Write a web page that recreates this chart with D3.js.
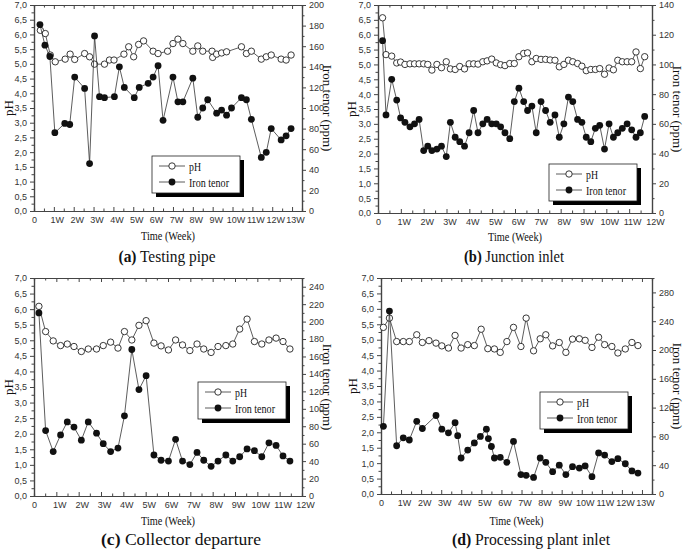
<!DOCTYPE html>
<html>
<head>
<meta charset="utf-8">
<script src="https://cdn.jsdelivr.net/npm/d3@7"></script>
<style>
  body { margin: 0; background: #fff; }
  .tick text { font-family: 'Liberation Sans', Arial, sans-serif; font-size: 9px; fill: #333; }
</style>
</head>
<body>
<div class="chart"></div>
<script>
// tick labels
var weekLabels = ['0', '1W', '2W', '3W', '4W', '5W', '6W', '7W', '8W', '9W', '10W', '11W', '12W', '13W'];
var phTicks = [0, 0.5, 1, 1.5, 2, 2.5, 3, 3.5, 4, 4.5, 5, 5.5, 6, 6.5, 7];
var seriesNames = ['pH', 'Iron tenor'];

// (a) Testing pipe
var aPhWeek = [0.32, 0.57, 0.82, 1.07, 1.57, 1.82, 2.05, 2.55, 2.8, 3.05, 3.55, 3.8, 4.03, 4.53, 4.77, 5.02, 5.27, 5.52, 6.0, 6.25,
               6.73, 7.0, 7.25, 7.5, 8.0, 8.25, 8.5, 8.97, 9.0, 9.2, 9.45, 9.7, 10.45, 10.7, 10.95, 11.45, 11.7, 11.95, 12.45, 12.7, 12.95];
var aPh = [6.14, 6.03, 5.3, 5.07, 5.16, 5.33, 5.15, 5.35, 5.24, 4.99, 4.99, 5.13, 5.13, 5.33, 5.58, 5.24, 5.66, 5.78, 5.43, 5.35,
           5.43, 5.69, 5.84, 5.69, 5.43, 5.61, 5.43, 5.43, 5.22, 5.33, 5.37, 5.41, 5.58, 5.35, 5.43, 5.16, 5.24, 5.30, 5.16, 5.13, 5.30];
var aFeWeek = [0.3, 0.55, 0.8, 1.05, 1.55, 1.8, 2.05, 2.55, 2.8, 3.05, 3.3, 3.55, 4.05, 4.3, 4.55, 5.05, 5.3, 5.75, 6.0, 6.25,
               6.5, 7.0, 7.25, 7.5, 8.0, 8.25, 8.5, 8.75, 9.2, 9.45, 9.7, 9.95, 10.45, 10.7, 10.95, 11.45, 11.7, 11.95, 12.45, 12.7, 12.95];
var aFe = [181, 161, 150, 76, 85, 84, 130, 119, 46, 170, 111, 110, 111, 140, 120, 110, 120, 124, 130, 141,
           88, 130, 106, 106, 129, 91, 100, 108, 95, 98, 93, 100, 110, 108, 89, 52, 57, 80, 69, 73, 80];

// (b) Junction inlet
var bWeek = [0.2, 0.35, 0.6, 0.82, 0.99, 1.18, 1.4, 1.6, 1.8, 2.0, 2.18, 2.36, 2.58, 2.78, 2.99, 3.17, 3.38, 3.58, 3.79, 3.99,
             4.19, 4.38, 4.59, 4.78, 4.98, 5.18, 5.37, 5.56, 5.77, 5.97, 6.17, 6.38, 6.55, 6.74, 6.93, 7.14, 7.34, 7.54, 7.75, 7.94,
             8.14, 8.34, 8.53, 8.74, 8.93, 9.12, 9.32, 9.52, 9.71, 9.92, 10.12, 10.31, 10.5, 10.7, 10.91, 11.11, 11.3, 11.49, 11.68];
var bPh = [6.57, 5.33, 5.28, 5.05, 5.08, 5.0, 5.02, 5.02, 5.02, 5.02, 5.0, 4.81, 5.0, 4.89, 5.09, 4.85, 4.83, 4.93, 4.85, 5.02,
           5.02, 5.01, 5.09, 5.12, 5.18, 5.05, 4.99, 4.96, 5.03, 5.03, 5.26, 5.37, 5.39, 5.09, 5.2, 5.17, 5.17, 5.15, 5.14, 4.92,
           5.0, 5.14, 5.09, 5.03, 4.94, 4.79, 4.83, 4.83, 4.86, 4.67, 4.88, 4.82, 5.14, 5.09, 5.09, 5.09, 5.42, 4.86, 5.26];
var bFe = [116, 66, 90, 76, 64, 61, 58, 60, 63, 42, 45, 42, 43, 45, 38, 61, 51, 48, 45, 54,
           69, 54, 60, 63, 60, 60, 58, 54, 50, 75, 84, 75, 69, 72, 54, 75, 69, 61, 66, 51,
           60, 78, 75, 63, 61, 51, 48, 57, 59, 43, 60, 51, 54, 57, 60, 56, 51, 54, 65];

// (c) Collector departure
var cWeek = [0.22, 0.52, 0.86, 1.19, 1.49, 1.79, 2.12, 2.43, 2.8, 3.1, 3.43, 3.76, 4.05, 4.38, 4.7, 5.02, 5.37, 5.69,
             6.02, 6.34, 6.65, 6.98, 7.3, 7.6, 7.93, 8.24, 8.59, 8.9, 9.21, 9.54, 9.87, 10.2, 10.52, 10.84, 11.15, 11.46];
var cPh = [6.09, 5.28, 4.98, 4.83, 4.88, 4.8, 4.64, 4.72, 4.72, 4.83, 4.94, 4.75, 5.28, 5.01, 5.48, 5.63, 4.91, 4.82,
           4.69, 5.01, 4.85, 4.67, 4.88, 4.72, 4.61, 4.8, 4.83, 4.88, 5.36, 5.68, 4.96, 4.88, 5.01, 5.07, 4.96, 4.72];
var cFe = [210, 75, 51, 70, 85, 79, 64, 85, 72, 60, 51, 55, 92, 168, 122, 138, 47, 41,
           40, 65, 40, 36, 50, 41, 34, 40, 47, 40, 45, 54, 52, 45, 61, 58, 46, 40];

// (d) Processing plant inlet
var dPhWeek = [0.12, 0.42, 0.78, 1.11, 1.41, 1.78, 2.06, 2.39, 2.74, 3.03, 3.36, 3.69, 3.99, 4.32, 4.65, 4.99, 5.32, 5.65, 5.94, 6.27,
               6.6, 6.97, 7.23, 7.6, 7.93, 8.21, 8.55, 8.88, 9.21, 9.54, 9.88, 10.17, 10.51, 10.84, 11.14, 11.5, 11.8, 12.17, 12.5, 12.8];
var dPh = [5.4, 5.7, 4.94, 4.94, 4.94, 5.16, 4.91, 4.97, 4.89, 4.8, 4.73, 5.14, 4.73, 4.84, 4.81, 5.34, 4.71, 4.7, 4.59, 4.94,
           5.4, 4.78, 5.7, 4.64, 5.03, 5.16, 4.8, 4.91, 4.59, 5.02, 5.03, 4.98, 4.75, 5.08, 4.84, 4.78, 4.57, 4.7, 4.91, 4.81];
var dFeWeek = [0.12, 0.42, 0.78, 1.11, 1.41, 1.78, 2.06, 2.74, 3.03, 3.36, 3.69, 3.82, 3.99, 4.32, 4.65, 4.95, 5.25, 5.35, 5.5, 5.65,
               5.94, 6.27, 6.6, 6.97, 7.23, 7.6, 7.93, 8.21, 8.55, 8.88, 9.21, 9.54, 9.88, 10.17, 10.51, 10.84, 11.14, 11.5, 11.8, 12.17,
               12.5, 12.8];
var dFe = [94, 254, 67, 78, 75, 101, 91, 109, 90, 85, 99, 81, 50, 61, 71, 80, 90, 77, 66, 50,
           51, 44, 73, 27, 26, 23, 50, 44, 31, 40, 27, 38, 36, 39, 24, 57, 54, 45, 49, 42,
           32, 29];

(function() {
  var SERIF = "'Liberation Serif', 'Times New Roman', serif";

  var svg = d3.select('.chart')
              .append('svg')
              .attr('width', 685)
              .attr('height', 549);

  var panels = [
    { letter: '(a)', name: ' Testing pipe', box: [34, 302, 5, 211], weeks: 13.5, feMax: 200, feStep: 20,
      phT: aPhWeek, ph: aPh, feT: aFeWeek, fe: aFe, leg: [152, 156], titleX: 167, titleY: 262, titleW: 97, timeY: 236, phX: 8, feX: 328 },
    { letter: '(b)', name: ' Junction inlet', box: [378, 652, 5, 213], weeks: 12, feMax: 140, feStep: 20,
      phT: bWeek, ph: bPh, feT: bWeek, fe: bFe, leg: [549, 164], titleX: 514, titleY: 262, titleW: 100, timeY: 237, phX: 351, feX: 678 },
    { letter: '(c)', name: ' Collector departure', box: [34, 302, 278, 496], weeks: 12, feMax: 250, feStep: 20,
      phT: cWeek, ph: cPh, feT: cWeek, fe: cFe, leg: [198, 382], titleX: 181, titleY: 545, titleW: 160, timeY: 521, phX: 8, feX: 328 },
    { letter: '(d)', name: ' Processing plant inlet', box: [381, 652, 278, 494], weeks: 13.5, feMax: 300, feStep: 40,
      phT: dPhWeek, ph: dPh, feT: dFeWeek, fe: dFe, leg: [540, 392], titleX: 531, titleY: 545, titleW: 158, timeY: 521, phX: 352, feX: 678 }
  ];

  var styleAxis = function(g) {
    g.select('.domain').attr('stroke', '#444').attr('stroke-width', 1.2);
    g.selectAll('.tick line').attr('stroke', '#444').attr('stroke-width', 1);
  };

  var serifText = function(g, size) {
    return g.append('text')
            .attr('font-family', SERIF)
            .attr('font-size', size)
            .attr('fill', '#111');
  };

  var drawPanel = function(p) {
    var x = d3.scaleLinear().domain([0, p.weeks]).range([p.box[0], p.box[1]]);
    var yPh = d3.scaleLinear().domain([0, 7]).range([p.box[3], p.box[2]]);
    var yFe = d3.scaleLinear().domain([0, p.feMax]).range([p.box[3], p.box[2]]);

    var nWeeks = Math.floor(p.weeks);
    var weekTicks = d3.range(0, nWeeks + 1);
    var halfTicks = d3.range(0.5, p.weeks, 1);
    var feTicks = d3.range(0, p.feMax + 1, p.feStep);
    var feMinor = d3.range(p.feStep / 2, p.feMax, p.feStep);
    var phMinor = d3.range(0.25, 7, 0.5);

    var g = svg.append('g');

    // minor ticks
    g.append('g').attr('transform', 'translate(' + p.box[0] + ',0)')
      .call(d3.axisLeft(yPh).tickValues(phMinor).tickSize(2.5).tickFormat('')).call(styleAxis);
    g.append('g').attr('transform', 'translate(' + p.box[1] + ',0)')
      .call(d3.axisRight(yFe).tickValues(feMinor).tickSize(2.5).tickFormat('')).call(styleAxis);
    g.append('g').attr('transform', 'translate(0,' + p.box[3] + ')')
      .call(d3.axisBottom(x).tickValues(halfTicks).tickSize(-2.5).tickFormat('')).call(styleAxis);
    g.append('g').attr('transform', 'translate(0,' + p.box[2] + ')')
      .call(d3.axisTop(x).tickValues(halfTicks).tickSize(-2.5).tickFormat('')).call(styleAxis);

    // major ticks
    g.append('g').attr('transform', 'translate(' + p.box[0] + ',0)')
      .call(d3.axisLeft(yPh).tickValues(phTicks).tickSize(4).tickSizeOuter(0).tickPadding(3)
        .tickFormat(function(d) { return d.toFixed(1).replace('.', ','); }))
      .call(styleAxis);
    g.append('g').attr('transform', 'translate(' + p.box[1] + ',0)')
      .call(d3.axisRight(yFe).tickValues(feTicks).tickSize(4).tickSizeOuter(0).tickPadding(3))
      .call(styleAxis);
    var bottom = g.append('g').attr('transform', 'translate(0,' + p.box[3] + ')')
      .call(d3.axisBottom(x).tickValues(weekTicks).tickSize(-4).tickSizeOuter(0).tickPadding(6)
        .tickFormat(function(d) { return weekLabels[d]; }))
      .call(styleAxis);
    bottom.selectAll('.tick text').attr('dx', function(d) { return d === 0 ? 0 : 3; });
    g.append('g').attr('transform', 'translate(0,' + p.box[2] + ')')
      .call(d3.axisTop(x).tickValues(weekTicks).tickSize(-4).tickSizeOuter(0).tickFormat(''))
      .call(styleAxis);

    // lines + markers
    var phPts = p.phT.map(function(t, i) { return [t, p.ph[i]]; });
    var fePts = p.feT.map(function(t, i) { return [t, p.fe[i]]; });

    g.append('path').datum(phPts)
      .attr('fill', 'none').attr('stroke', '#333').attr('stroke-width', 0.8)
      .attr('d', d3.line().x(function(d) { return x(d[0]); }).y(function(d) { return yPh(d[1]); }));
    g.selectAll('.ph').data(phPts).enter().append('circle')
      .attr('class', 'ph')
      .attr('cx', function(d) { return x(d[0]); })
      .attr('cy', function(d) { return yPh(d[1]); })
      .attr('r', 3.2)
      .attr('fill', '#fff').attr('stroke', '#222').attr('stroke-width', 0.9);

    g.append('path').datum(fePts)
      .attr('fill', 'none').attr('stroke', '#333').attr('stroke-width', 0.8)
      .attr('d', d3.line().x(function(d) { return x(d[0]); }).y(function(d) { return yFe(d[1]); }));
    g.selectAll('.fe').data(fePts).enter().append('circle')
      .attr('class', 'fe')
      .attr('cx', function(d) { return x(d[0]); })
      .attr('cy', function(d) { return yFe(d[1]); })
      .attr('r', 3.4)
      .attr('fill', '#111');

    // axis titles (the source picture is squeezed sideways, so horizontal texts get a fixed length)
    var midY = (p.box[2] + p.box[3]) / 2;
    serifText(g, 13)
      .attr('transform', 'translate(' + p.phX + ',' + midY + ') rotate(-90)')
      .attr('text-anchor', 'middle').attr('dy', '0.35em')
      .text('pH');
    serifText(g, 13)
      .attr('transform', 'translate(' + p.feX + ',' + midY + ') rotate(90)')
      .attr('text-anchor', 'middle').attr('dy', '0.35em')
      .text('Iron tenor (ppm)');
    serifText(g, 12.5)
      .attr('x', (p.box[0] + p.box[1]) / 2 - 27).attr('y', p.timeY)
      .attr('dy', '0.35em')
      .attr('textLength', 54).attr('lengthAdjust', 'spacingAndGlyphs')
      .text('Time (Week)');

    var title = serifText(g, 16)
      .attr('x', p.titleX - p.titleW / 2).attr('y', p.titleY)
      .attr('textLength', p.titleW).attr('lengthAdjust', 'spacingAndGlyphs');
    title.append('tspan').attr('font-weight', 'bold').text(p.letter);
    title.append('tspan').text(p.name);

    // legend
    var lx = p.leg[0], ly = p.leg[1], lw = 88, lh = 37;
    g.append('rect').attr('x', lx + 4).attr('y', ly + 4).attr('width', lw).attr('height', lh).attr('fill', '#000');
    g.append('rect').attr('x', lx).attr('y', ly).attr('width', lw).attr('height', lh)
      .attr('fill', '#fff').attr('stroke', '#222').attr('stroke-width', 0.8);
    seriesNames.forEach(function(name, i) {
      var yy = ly + 10 + i * 16;
      g.append('line').attr('x1', lx + 7).attr('x2', lx + 33).attr('y1', yy).attr('y2', yy)
        .attr('stroke', '#333').attr('stroke-width', 0.8);
      g.append('circle').attr('cx', lx + 20).attr('cy', yy).attr('r', i === 0 ? 3.2 : 3.4)
        .attr('fill', i === 0 ? '#fff' : '#111').attr('stroke', '#222').attr('stroke-width', i === 0 ? 0.9 : 0);
      serifText(g, 13).attr('x', lx + 37).attr('y', yy)
        .attr('dy', '0.35em')
        .attr('textLength', i === 0 ? 12 : 40).attr('lengthAdjust', 'spacingAndGlyphs')
        .text(name);
    });
  };

  panels.forEach(drawPanel);
}).call(this);
</script>
</body>
</html>
